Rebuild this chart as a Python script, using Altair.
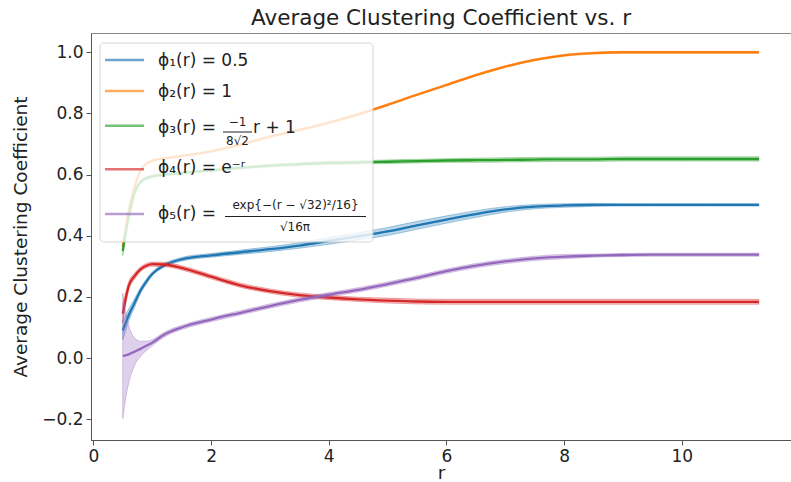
import altair as alt
import pandas as pd

# ---------------- data ----------------
r_vals = [0.5, 0.55, 0.6, 0.7, 0.8, 0.9, 1.0, 1.2, 1.5, 2.0, 2.5, 3.0, 3.5, 4.0, 4.5,
          5.0, 5.5, 6.0, 6.5, 7.0, 7.5, 8.0, 8.5, 9.0, 9.5, 10.0, 10.5, 11.0, 11.31]

phi1_mean = [0.09, 0.115, 0.14, 0.18, 0.22, 0.25, 0.275, 0.303, 0.323, 0.336, 0.346, 0.356,
             0.368, 0.383, 0.398, 0.414, 0.434, 0.453, 0.471, 0.486, 0.495, 0.499, 0.501,
             0.501, 0.501, 0.501, 0.501, 0.501, 0.501]
phi1_sd = [0.03, 0.025, 0.02, 0.014, 0.01, 0.008, 0.006, 0.006, 0.006, 0.006, 0.007, 0.008,
           0.009, 0.011, 0.012, 0.013, 0.013, 0.012, 0.011, 0.009, 0.007, 0.006, 0.005,
           0.004, 0.004, 0.004, 0.004, 0.004, 0.004]

phi2_mean = [0.365, 0.425, 0.48, 0.56, 0.612, 0.635, 0.645, 0.653, 0.661, 0.676, 0.698, 0.724,
             0.746, 0.77, 0.797, 0.828, 0.861, 0.893, 0.925, 0.953, 0.975, 0.99, 0.997,
             1.0, 1.0, 1.0, 1.0, 1.0, 1.0]
phi2_sd = [0.01, 0.008, 0.006, 0.004, 0.003, 0.003, 0.003, 0.003, 0.003, 0.003, 0.003, 0.003,
           0.003, 0.003, 0.003, 0.003, 0.003, 0.003, 0.003, 0.003, 0.003, 0.003, 0.003,
           0.003, 0.003, 0.003, 0.003, 0.003, 0.003]

phi3_mean = [0.35, 0.41, 0.46, 0.54, 0.575, 0.588, 0.594, 0.6, 0.605, 0.614, 0.622, 0.629,
             0.634, 0.638, 0.64, 0.642, 0.644, 0.646, 0.647, 0.648, 0.649, 0.65, 0.65,
             0.651, 0.651, 0.651, 0.651, 0.651, 0.651]
phi3_sd = [0.015, 0.012, 0.01, 0.006, 0.004, 0.004, 0.004, 0.004, 0.004, 0.004, 0.004, 0.004,
           0.005, 0.005, 0.005, 0.006, 0.006, 0.006, 0.007, 0.007, 0.007, 0.007, 0.007,
           0.007, 0.007, 0.007, 0.007, 0.007, 0.007]

phi4_mean = [0.145, 0.195, 0.235, 0.268, 0.29, 0.302, 0.307, 0.306, 0.295, 0.266, 0.238, 0.219,
             0.206, 0.198, 0.192, 0.188, 0.185, 0.184, 0.184, 0.184, 0.184, 0.184, 0.184,
             0.184, 0.184, 0.184, 0.184, 0.184, 0.184]
phi4_sd = [0.03, 0.02, 0.014, 0.01, 0.008, 0.007, 0.007, 0.007, 0.007, 0.007, 0.007, 0.007,
           0.007, 0.007, 0.007, 0.008, 0.008, 0.008, 0.008, 0.008, 0.008, 0.008, 0.008,
           0.008, 0.008, 0.008, 0.008, 0.008, 0.008]

phi5_mean = [0.007, 0.009, 0.012, 0.021, 0.03, 0.04, 0.05, 0.076, 0.1, 0.126, 0.148, 0.17,
             0.19, 0.207, 0.223, 0.242, 0.262, 0.284, 0.302, 0.316, 0.326, 0.332, 0.335,
             0.337, 0.338, 0.338, 0.338, 0.338, 0.338]
phi5_sd = [0.205, 0.14, 0.095, 0.045, 0.025, 0.015, 0.01, 0.008, 0.007, 0.007, 0.007, 0.007,
           0.007, 0.007, 0.007, 0.007, 0.007, 0.007, 0.007, 0.007, 0.007, 0.007, 0.005,
           0.005, 0.005, 0.005, 0.005, 0.005, 0.005]

series_names = ["phi1", "phi2", "phi3", "phi4", "phi5"]
series_means = [phi1_mean, phi2_mean, phi3_mean, phi4_mean, phi5_mean]
series_sds = [phi1_sd, phi2_sd, phi3_sd, phi4_sd, phi5_sd]
series_colors = ["#1f77b4", "#ff7f0e", "#2ca02c", "#d62728", "#9467bd"]

x_ticks = [0, 2, 4, 6, 8, 10]
y_ticks = [-0.2, 0.0, 0.2, 0.4, 0.6, 0.8, 1.0]

title_text = "Average Clustering Coefficient vs. r"
x_title = "r"
y_title = "Average Clustering Coefficient"

# legend texts
legend_main = ["ϕ₁(r) = 0.5", "ϕ₂(r) = 1", "ϕ₃(r) = ", "ϕ₄(r) = e⁻ʳ", "ϕ₅(r) = "]
legend_frac_parts = ["−1", "8√2", "exp{−(r − √32)²/16}", "√16π"]
legend_tail = ["r + 1"]

# ---------------- build tables ----------------
rows = []
for name, means, sds in zip(series_names, series_means, series_sds):
    for r, m, s in zip(r_vals, means, sds):
        rows.append({"r": r, "mean": m, "lo": m - s, "hi": m + s, "series": name})
df = pd.DataFrame(rows)

FONT = "DejaVu Sans"
xs = alt.Scale(domain=[-0.04, 11.855], nice=False, zero=False)
ys = alt.Scale(domain=[-0.268, 1.063], nice=False, zero=False)
x_axis = alt.Axis(values=x_ticks, format="d", title=x_title, labelFlush=False)
y_axis = alt.Axis(values=y_ticks, format=".1f", title=y_title)

layers = []
for name, col in zip(series_names, series_colors):
    base = alt.Chart(df).transform_filter(alt.datum.series == name)
    area = base.mark_area(interpolate="monotone", color=col, fillOpacity=0.3,
                          stroke=col, strokeOpacity=0.35, strokeWidth=1).encode(
        x=alt.X("r:Q", scale=xs, axis=x_axis),
        y=alt.Y("lo:Q", scale=ys, axis=y_axis),
        y2="hi:Q",
    )
    line = base.mark_line(interpolate="monotone", color=col, strokeWidth=2.3).encode(
        x=alt.X("r:Q", scale=xs, axis=x_axis),
        y=alt.Y("mean:Q", scale=ys, axis=y_axis),
    )
    layers += [area, line]

# ---------------- manual legend (pixel layout, plot-area coordinates) ----------------
box = pd.DataFrame([{"x": 9, "x2": 282, "y": 10, "y2": 209}])
legend_box = alt.Chart(box).mark_rect(fill="white", opacity=0.8, stroke="#cccccc",
                                      strokeWidth=1, cornerRadius=4).encode(
    x=alt.X("x:Q", scale=None, axis=None), x2="x2:Q",
    y=alt.Y("y:Q", scale=None, axis=None), y2="y2:Q")

row_y = [27, 58, 92.7, 136.3, 181]
handles = pd.DataFrame({"x": [14] * 5, "x2": [53] * 5, "y": row_y, "c": series_colors})
legend_handles = alt.Chart(handles).mark_rule(strokeWidth=2.5, opacity=0.65).encode(
    x=alt.X("x:Q", scale=None, axis=None), x2="x2:Q",
    y=alt.Y("y:Q", scale=None, axis=None),
    color=alt.Color("c:N", scale=None, legend=None))

text_left = pd.DataFrame({
    "t": legend_main + legend_tail,
    "x": [67, 67, 67, 67, 67, 162],
    "y": [28, 59, 95, 135, 181, 94.5],
    "fs": [17, 17, 17, 17, 17, 17],
})
legend_text_left = alt.Chart(text_left).mark_text(align="left", baseline="middle", font=FONT,
                                                  color="#222").encode(
    x=alt.X("x:Q", scale=None, axis=None),
    y=alt.Y("y:Q", scale=None, axis=None),
    size=alt.Size("fs:Q", scale=None, legend=None),
    text="t:N")

text_center = pd.DataFrame({
    "t": legend_frac_parts,
    "x": [146.5, 146.5, 204.5, 204],
    "y": [89, 108, 172, 193.5],
    "fs": [12, 12, 12, 12],
})
legend_text_center = alt.Chart(text_center).mark_text(align="center", baseline="middle",
                                                      font=FONT, color="#222").encode(
    x=alt.X("x:Q", scale=None, axis=None),
    y=alt.Y("y:Q", scale=None, axis=None),
    size=alt.Size("fs:Q", scale=None, legend=None),
    text="t:N")

bars = pd.DataFrame({"x": [132, 134], "x2": [161, 275], "y": [99, 183.5]})
legend_bars = alt.Chart(bars).mark_rule(strokeWidth=1, color="#222").encode(
    x=alt.X("x:Q", scale=None, axis=None), x2="x2:Q",
    y=alt.Y("y:Q", scale=None, axis=None))

layers += [legend_box, legend_handles, legend_bars, legend_text_left, legend_text_center]

chart = alt.layer(*layers).properties(
    width=700, height=407,
    padding={"left": 91, "top": 33, "right": 0, "bottom": 42},
    autosize=alt.AutoSizeParams(type="none"),
    title=alt.Title(title_text, font=FONT, fontSize=21.5, fontWeight="normal",
                    color="#222", offset=4),
).configure_view(stroke="#888", strokeWidth=1).configure_axis(
    grid=False, domainColor="#555", tickColor="#555", domainWidth=1, tickWidth=1,
    tickSize=5, labelFont=FONT, titleFont=FONT, labelFontSize=17, titleFontSize=18.5,
    labelColor="#222", titleColor="#222", titleFontWeight="normal", labelPadding=3,
).configure_axisY(titlePadding=11).configure_axisX(titlePadding=-1)

chart.save("out.html", embed_options={"renderer": "svg", "actions": False})
